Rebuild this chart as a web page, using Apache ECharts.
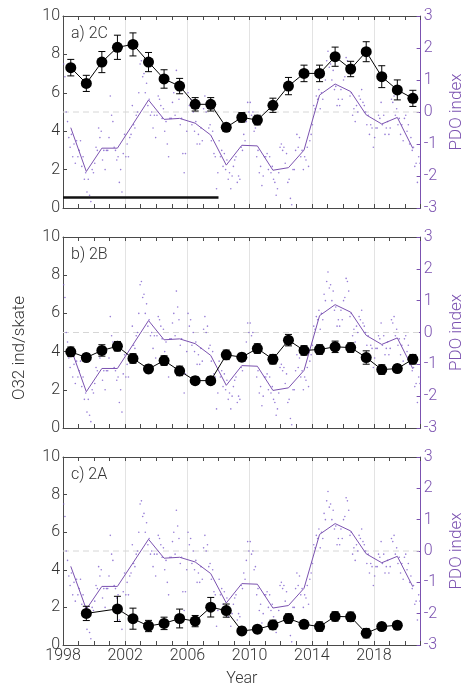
<!DOCTYPE html>
<html>
<head>
<meta charset="utf-8">
<script src="https://cdn.jsdelivr.net/npm/echarts@6/dist/echarts.min.js"></script>
<style>
  html, body { margin: 0; padding: 0; background: #fff; }
  #chart { width: 473px; height: 688px; }
</style>
</head>
<body>
<div id="chart"></div>
<script>
// survey years (points drawn at mid-year)
var years = [1998, 1999, 2000, 2001, 2002, 2003, 2004, 2005, 2006, 2007, 2008, 2009,
             2010, 2011, 2012, 2013, 2014, 2015, 2016, 2017, 2018, 2019, 2020];

// O32 catch per skate, panel a) 2C
var count2C = [7.31, 6.49, 7.60, 8.37, 8.52, 7.60, 6.72, 6.35, 5.40, 5.40, 4.20, 4.72,
               4.58, 5.35, 6.35, 7.01, 7.01, 7.88, 7.24, 8.14, 6.84, 6.15, 5.71];
var err2C = [0.43, 0.42, 0.55, 0.63, 0.60, 0.50, 0.48, 0.40, 0.35, 0.35, 0.20, 0.25,
             0.25, 0.37, 0.45, 0.43, 0.43, 0.50, 0.40, 0.52, 0.57, 0.52, 0.42];

// panel b) 2B
var count2B = [3.99, 3.69, 4.06, 4.28, 3.64, 3.09, 3.53, 2.99, 2.48, 2.48, 3.83, 3.71,
               4.16, 3.60, 4.60, 4.06, 4.11, 4.25, 4.21, 3.69, 3.06, 3.11, 3.60];
var err2B = [0.25, 0.20, 0.30, 0.25, 0.25, 0.20, 0.25, 0.25, 0.20, 0.20, 0.25, 0.20,
             0.25, 0.25, 0.30, 0.25, 0.25, 0.30, 0.25, 0.35, 0.25, 0.20, 0.25];

// panel c) 2A (no survey in 1998, 2000, 2020)
var count2A = [null, 1.68, null, 1.92, 1.40, 1.01, 1.15, 1.41, 1.27, 2.01, 1.83, 0.75,
               0.84, 1.07, 1.41, 1.10, 0.98, 1.52, 1.50, 0.63, 0.98, 1.05, null];
var err2A = [null, 0.38, null, 0.67, 0.56, 0.30, 0.33, 0.50, 0.30, 0.52, 0.35, 0.20,
             0.20, 0.25, 0.25, 0.20, 0.25, 0.25, 0.25, 0.25, 0.20, 0.20, null];

// PDO annual mean
var pdoAnnual = [-0.49, -1.86, -1.13, -1.13, -0.38, 0.375, -0.23, -0.20, -0.35, -0.72, -1.66, -1.04,
                 -1.06, -1.82, -1.74, -1.19, 0.53, 0.875, 0.64, -0.09, -0.375, -0.17, -1.14];

// PDO monthly, one row per year (Jan..Dec)
var pdoMonthly = [
  [1.5, 1.1, 0.0, -0.3, -0.8, -1.1, -0.7, -1.4, -1.0, -1.6, -0.9, -1.4],
  [-1.2, -0.9, -1.7, -1.4, -2.1, -1.9, -2.5, -2.1, -2.6, -2.8, -1.8, -1.9],
  [-1.6, -1.1, -1.2, -0.5, -0.8, -0.6, -1.5, -1.2, -1.8, -1.2, -1.2, -0.8],
  [0.5, -0.1, -0.3, -1.1, -1.2, -1.5, -1.4, -2.2, -1.8, -2.5, -1.3, -0.7],
  [-1.4, -1.0, -1.4, -0.8, -0.7, 0.2, -0.4, -0.5, -0.1, 0.0, 0.6, 1.5],
  [1.6, 1.1, 1.2, 0.6, 0.9, 0.2, 0.4, -0.1, 0.0, -0.5, -0.1, -0.8],
  [-0.1, 0.5, 0.4, 0.2, -0.2, 0.1, -0.6, -0.3, -1.0, -1.4, -0.2, -0.2],
  [0.3, 0.6, -0.1, 1.3, 0.8, 0.4, -0.4, -0.2, -1.3, -1.9, -1.3, -0.6],
  [0.6, 0.2, 0.4, -0.4, 0.0, -0.6, -0.3, -1.0, -0.7, -1.0, -0.5, -0.9],
  [0.1, 0.5, 0.0, 0.2, -0.5, -0.4, -0.9, -0.6, -1.3, -1.4, -2.4, -1.9],
  [-0.9, -1.4, -1.2, -1.7, -1.3, -1.8, -1.5, -2.1, -1.9, -2.4, -2.0, -1.7],
  [-1.5, -1.4, -2.2, -2.0, -2.1, -1.1, -1.2, -0.7, -0.9, -0.3, 0.3, 0.0],
  [0.3, -0.1, 0.0, -0.6, -0.5, -1.4, -1.2, -1.9, -1.7, -2.3, -2.0, -1.4],
  [-1.4, -1.3, -1.8, -1.4, -1.9, -1.7, -2.1, -2.2, -2.6, -2.4, -1.9, -1.1],
  [-1.0, -1.2, -1.1, -1.6, -1.3, -2.2, -2.1, -2.7, -2.9, -1.8, -1.8, -1.2],
  [-0.7, -1.1, -0.8, -1.4, -1.2, -1.8, -1.4, -1.5, -1.1, -1.7, -0.9, -0.7],
  [-0.4, 0.2, 0.1, 0.5, 0.4, 0.7, 0.1, 0.6, 0.4, 1.2, 1.0, 1.6],
  [1.9, 1.4, 1.5, 1.0, 1.3, 0.7, 0.8, 0.2, 0.4, 0.2, 0.7, 0.4],
  [1.0, 1.1, 1.7, 1.6, 1.3, 0.5, 0.6, -0.1, 0.1, -0.3, 0.2, 0.0],
  [0.5, 0.4, 0.7, 0.3, 0.2, 0.0, -0.4, -0.1, -0.7, -0.4, -0.5, -1.1],
  [-0.8, -0.5, -0.5, -0.1, -0.2, 0.3, -0.4, -0.1, -0.7, -0.5, -0.3, -0.7],
  [-0.5, 0.4, 0.3, 0.5, -0.1, 0.1, -0.4, -0.2, -0.7, -0.4, -0.9, -0.2],
  [-0.1, -0.6, -0.4, -1.0, -0.8, -1.2, -1.1, -1.7, -1.6, -2.2, -1.4, -1.6]
];

// years covered by the black bar in panel a
var barYears = [1998, 2008];
var barLevel = 0.55;

var panelNames = ['a) 2C', 'b) 2B', 'c) 2A'];
var counts = [count2C, count2B, count2A];
var errs = [err2C, err2B, err2A];

var PURPLE = '#7b52b0';
var AXIS = '#4a4a4a';
var FONT = 'Roboto';

var chart = echarts.init(document.getElementById('chart'), null, {renderer: 'canvas'});

var gridTops = [16, 237, 457];
var gridH = [192, 191, 191];

var grids = [], xAxes = [], yAxes = [], series = [], graphics = [];

function errRender(params, api) {
  var x = api.value(0);
  var top = api.coord([x, api.value(2)]);
  var bot = api.coord([x, api.value(1)]);
  var w = 3.5;
  var st = {stroke: '#000', lineWidth: 1};
  return {
    type: 'group',
    children: [
      {type: 'line', shape: {x1: top[0], y1: top[1], x2: bot[0], y2: bot[1]}, style: st},
      {type: 'line', shape: {x1: top[0] - w, y1: top[1], x2: top[0] + w, y2: top[1]}, style: st},
      {type: 'line', shape: {x1: bot[0] - w, y1: bot[1], x2: bot[0] + w, y2: bot[1]}, style: st}
    ]
  };
}

for (var p = 0; p < 3; p++) {
  grids.push({left: 63, right: 39, top: gridTops[p], height: gridH[p]});
  var last = p === 2;

  // bottom axis with yearly ticks
  xAxes.push({
    gridIndex: p, type: 'value', min: 1998, max: 2021, interval: 1, position: 'bottom',
    axisLine: {onZero: false, lineStyle: {color: AXIS, width: 1}},
    axisTick: {inside: true, length: 4, lineStyle: {color: AXIS}},
    axisLabel: {
      show: last, margin: 3, color: '#333', fontSize: 16, fontFamily: FONT, fontWeight: 300,
      formatter: function (v) { return (v - 1998) % 4 === 0 && v <= 2018 ? String(v) : ''; }
    },
    splitLine: {show: false},
    name: last ? 'Year' : '', nameLocation: 'middle', nameGap: 26,
    nameTextStyle: {color: '#333', fontSize: 16, fontFamily: FONT, fontWeight: 300}
  });
  // top mirror axis
  xAxes.push({
    gridIndex: p, type: 'value', min: 1998, max: 2021, interval: 1, position: 'top',
    axisLine: {onZero: false, lineStyle: {color: AXIS, width: 1}},
    axisTick: {inside: true, length: 4, lineStyle: {color: AXIS}},
    axisLabel: {show: false}, splitLine: {show: false}
  });
  // 4-year grid lines
  xAxes.push({
    gridIndex: p, type: 'value', min: 1998, max: 2021, interval: 4, position: 'bottom',
    axisLine: {show: false, onZero: false}, axisTick: {show: false}, axisLabel: {show: false},
    splitLine: {show: true, lineStyle: {color: '#e3e3e3', width: 1}}
  });

  yAxes.push({
    gridIndex: p, type: 'value', min: 0, max: 10, interval: 2, position: 'left',
    axisLine: {show: true, onZero: false, lineStyle: {color: AXIS}},
    axisTick: {show: true, inside: true, length: 4, lineStyle: {color: AXIS}},
    axisLabel: {margin: 3, color: '#333', fontSize: 16, fontFamily: FONT, fontWeight: 300},
    splitLine: {show: false}
  });
  yAxes.push({
    gridIndex: p, type: 'value', min: -3, max: 3, interval: 1, position: 'right',
    axisLine: {show: true, onZero: false, lineStyle: {color: PURPLE}},
    axisTick: {show: true, inside: true, length: 4, lineStyle: {color: PURPLE}},
    axisLabel: {margin: 3, color: PURPLE, fontSize: 16, fontFamily: FONT, fontWeight: 300},
    splitLine: {show: false},
    name: 'PDO index', nameLocation: 'middle', nameGap: 21, nameRotate: 90,
    nameTextStyle: {color: PURPLE, fontSize: 17, fontFamily: FONT, fontWeight: 300}
  });

  var xi = 3 * p, yl = 2 * p, yr = 2 * p + 1;

  // PDO = 0 reference line
  series.push({
    type: 'line', xAxisIndex: xi, yAxisIndex: yr,
    data: [[1998, 0], [2021, 0]], showSymbol: false, silent: true, z: 1,
    lineStyle: {color: '#d6d6d6', width: 1, type: [6, 4]}
  });

  var monthly = [];
  for (var i = 0; i < years.length; i++) {
    for (var m = 0; m < 12; m++) {
      monthly.push([years[i] + (m + 0.5) / 12, pdoMonthly[i][m]]);
    }
  }
  series.push({
    type: 'scatter', xAxisIndex: xi, yAxisIndex: yr, data: monthly,
    symbol: 'circle', symbolSize: 1.6, itemStyle: {color: '#7d5ccc'}, silent: true, z: 2
  });
  series.push({
    type: 'line', xAxisIndex: xi, yAxisIndex: yr,
    data: years.map(function (y, k) { return [y + 0.5, pdoAnnual[k]]; }),
    showSymbol: false, lineStyle: {color: PURPLE, width: 1}, silent: true, z: 3
  });

  var cnt = counts[p], er = errs[p];
  var errData = [];
  for (var k = 0; k < years.length; k++) {
    if (cnt[k] != null) errData.push([years[k] + 0.5, cnt[k] - er[k], cnt[k] + er[k]]);
  }
  series.push({
    type: 'custom', xAxisIndex: xi, yAxisIndex: yl, renderItem: errRender,
    data: errData, encode: {x: 0, y: [1, 2]}, silent: true, z: 4
  });
  series.push({
    type: 'line', xAxisIndex: xi, yAxisIndex: yl, connectNulls: true,
    data: years.map(function (y, k) { return [y + 0.5, cnt[k]]; }),
    symbol: 'circle', symbolSize: 11, showAllSymbol: true,
    itemStyle: {color: '#000'}, lineStyle: {color: '#000', width: 1}, silent: true, z: 5
  });

  if (p === 0) {
    series.push({
      type: 'line', xAxisIndex: xi, yAxisIndex: yl,
      data: barYears.map(function (y) { return [y, barLevel]; }),
      showSymbol: false, lineStyle: {color: '#111', width: 2.5}, silent: true, z: 5
    });
  }

  graphics.push({
    type: 'text', left: 71, top: gridTops[p] + 10,
    style: {text: panelNames[p], fill: '#333', fontSize: 16, fontFamily: FONT, fontWeight: 300}
  });
}

// shared left axis title
graphics.push({
  type: 'text', x: 20, y: 348, rotation: Math.PI / 2,
  style: {text: 'O32 ind/skate', fill: '#333', fontSize: 17, fontFamily: FONT, fontWeight: 300,
          align: 'center', verticalAlign: 'middle'}
});

chart.setOption({
  animation: false,
  backgroundColor: '#fff',
  grid: grids,
  xAxis: xAxes,
  yAxis: yAxes,
  series: series,
  graphic: graphics
});
</script>
</body>
</html>
